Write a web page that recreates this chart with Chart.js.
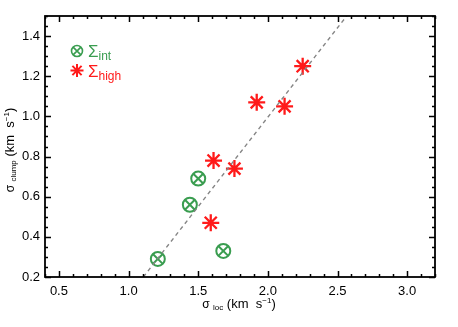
<!DOCTYPE html>
<html><head><meta charset="utf-8">
<script src="https://cdn.jsdelivr.net/npm/chart.js@4"></script>
<style>html,body{margin:0;padding:0;background:#fff}canvas{display:block}</style>
</head><body>
<canvas id="c" width="458" height="327"></canvas>
<script>
// ---- data ----
const intX = [1.21, 1.44, 1.50, 1.68];
const intY = [0.29, 0.56, 0.69, 0.33];
const highX = [1.59, 1.61, 1.76, 1.92, 2.12, 2.25];
const highY = [0.47, 0.78, 0.74, 1.07, 1.05, 1.25];
const fitX = [1.106, 2.566];
const fitY = [0.2, 1.5];
const xTicks = [0.5, 1.0, 1.5, 2.0, 2.5, 3.0];
const yTicks = [0.2, 0.4, 0.6, 0.8, 1.0, 1.2, 1.4];
const xRange = [0.4, 3.2];
const yRange = [0.2, 1.5];
const xMinorStep = 0.1;
const yMinorStep = 0.05;

const GREEN = '#3a9d50';
const RED = '#ff1a1a';
const FONT = '"Liberation Sans", Arial, sans-serif';

const pts = (xs, ys) => xs.map((x, i) => ({x: x, y: ys[i]}));

function richWidth(ctx, parts) {
  let w = 0;
  for (const p of parts) { ctx.font = p.s + 'px ' + FONT; w += ctx.measureText(p.t).width; }
  return w;
}
function drawRich(ctx, parts, x, y, color) {
  ctx.fillStyle = color;
  ctx.textBaseline = 'alphabetic';
  ctx.textAlign = 'left';
  for (const p of parts) {
    ctx.font = p.s + 'px ' + FONT;
    ctx.fillText(p.t, x, y + (p.dy || 0));
    x += ctx.measureText(p.t).width;
  }
}

const decor = {
  id: 'decor',
  afterDraw(chart) {
    const ctx = chart.ctx, a = chart.chartArea;
    const xs = chart.scales.x, ys = chart.scales.y;
    ctx.save();
    ctx.strokeStyle = '#000';
    ctx.lineWidth = 1.5;
    // ticks
    const majL = 6, minL = 3;
    const xMinor = [], yMinor = [];
    for (let v = xRange[0]; v <= xRange[1] + 1e-9; v += xMinorStep) xMinor.push(+v.toFixed(3));
    for (let v = yRange[0]; v <= yRange[1] + 1e-9; v += yMinorStep) yMinor.push(+v.toFixed(3));
    ctx.beginPath();
    for (const v of xMinor) {
      const p = Math.round(xs.getPixelForValue(v)) + 0.5;
      const L = xTicks.some(t => Math.abs(t - v) < 1e-6) ? majL : minL;
      ctx.moveTo(p, a.bottom); ctx.lineTo(p, a.bottom - L);
      ctx.moveTo(p, a.top); ctx.lineTo(p, a.top + L);
    }
    for (const v of yMinor) {
      const p = Math.round(ys.getPixelForValue(v)) + 0.5;
      const L = yTicks.some(t => Math.abs(t - v) < 1e-6) ? majL : minL;
      ctx.moveTo(a.left, p); ctx.lineTo(a.left + L, p);
      ctx.moveTo(a.right, p); ctx.lineTo(a.right - L, p);
    }
    ctx.stroke();
    ctx.lineWidth = 1.8;
    ctx.strokeRect(a.left, a.top, a.right - a.left, a.bottom - a.top);

    // legend
    const H = Chart.helpers;
    const lx = 77;
    ctx.fillStyle = 'rgba(0,0,0,0)';
    ctx.strokeStyle = GREEN; ctx.lineWidth = 1.6;
    H.drawPoint(ctx, {pointStyle: 'circle', radius: 5.5, borderWidth: 1.6}, lx, 51);
    H.drawPoint(ctx, {pointStyle: 'crossRot', radius: 5.5, borderWidth: 1.6}, lx, 51);
    ctx.strokeStyle = RED; ctx.lineWidth = 2;
    H.drawPoint(ctx, {pointStyle: 'star', radius: 6.5, borderWidth: 2}, lx, 70.5);
    drawRich(ctx, [{t: 'Σ', s: 17}, {t: 'int', s: 12, dy: 3}], 88, 57, GREEN);
    drawRich(ctx, [{t: 'Σ', s: 17}, {t: 'high', s: 12, dy: 3}], 88, 77, RED);

    // axis titles
    const xt = [{t: 'σ ', s: 12}, {t: 'loc', s: 8, dy: 2}, {t: ' (km  s', s: 13}, {t: '−1', s: 8, dy: -5}, {t: ')', s: 13}];
    const xw = richWidth(ctx, xt);
    drawRich(ctx, xt, 239 - xw / 2, 308, '#000');
    const yt = [{t: 'σ ', s: 12}, {t: 'clump', s: 8, dy: 2}, {t: ' (km  s', s: 13}, {t: '−1', s: 8, dy: -5}, {t: ')', s: 13}];
    const yw = richWidth(ctx, yt);
    ctx.translate(14, 150);
    ctx.rotate(-Math.PI / 2);
    drawRich(ctx, yt, -yw / 2, 0, '#000');
    ctx.restore();
  }
};

new Chart(document.getElementById('c'), {
  type: 'scatter',
  data: {
    datasets: [
      {data: pts(fitX, fitY), type: 'line', showLine: true, borderColor: '#858585', borderWidth: 1.4,
       borderDash: [4, 3.5], pointRadius: 0, fill: false},
      {data: pts(intX, intY), pointStyle: 'circle', pointRadius: 7, pointHoverRadius: 7,
       borderColor: GREEN, backgroundColor: 'rgba(0,0,0,0)', borderWidth: 2},
      {data: pts(intX, intY), pointStyle: 'crossRot', pointRadius: 7, pointHoverRadius: 7,
       borderColor: GREEN, backgroundColor: 'rgba(0,0,0,0)', borderWidth: 2},
      {data: pts(highX, highY), pointStyle: 'star', pointRadius: 8.5, pointHoverRadius: 8.5,
       borderColor: RED, backgroundColor: RED, borderWidth: 2.3}
    ]
  },
  options: {
    responsive: false,
    animation: false,
    events: [],
    layout: {padding: {left: 0, top: 16, right: 23, bottom: 0}},
    plugins: {legend: {display: false}, tooltip: {enabled: false}},
    scales: {
      x: {
        type: 'linear', min: xRange[0], max: xRange[1],
        grid: {display: false, drawTicks: false}, border: {display: false},
        afterBuildTicks: s => { s.ticks = xTicks.map(v => ({value: v})); },
        afterFit: s => { s.height = 50; },
        ticks: {color: '#000', padding: 7, font: {family: FONT, size: 13}, maxRotation: 0,
                callback: v => v.toFixed(1)}
      },
      y: {
        type: 'linear', min: yRange[0], max: yRange[1],
        grid: {display: false, drawTicks: false}, border: {display: false},
        afterBuildTicks: s => { s.ticks = yTicks.map(v => ({value: v})); },
        afterFit: s => { s.width = 45; },
        ticks: {color: '#000', padding: 5, font: {family: FONT, size: 13},
                callback: v => v.toFixed(1)}
      }
    }
  },
  plugins: [decor]
});
</script>
</body></html>
